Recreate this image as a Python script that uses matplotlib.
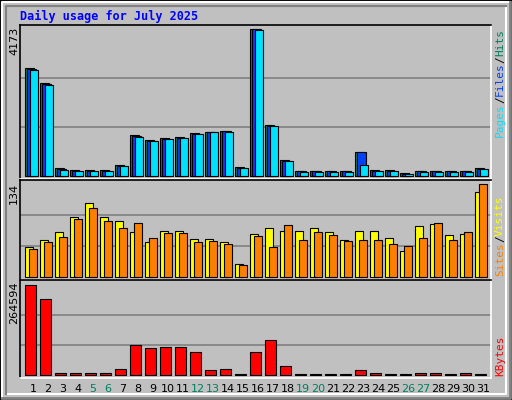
import matplotlib
matplotlib.use("Agg")
import matplotlib.pyplot as plt
from matplotlib.patches import Rectangle
from matplotlib.lines import Line2D

days = list(range(1, 32))
weekend = {5, 6, 12, 13, 19, 20, 26, 27}
hits = [3066, 2640, 227, 170, 170, 170, 312, 1164, 1022, 1079, 1107, 1220, 1249, 1277, 255, 4173,
        1448, 454, 142, 142, 142, 142, 681, 170, 170, 85, 142, 142, 142, 142, 227]
files = [3040, 2610, 200, 150, 150, 150, 290, 1140, 1000, 1060, 1090, 1200, 1240, 1270, 240, 4160,
         1430, 440, 130, 130, 130, 130, 681, 150, 150, 60, 130, 130, 130, 130, 210]
pages = [3000, 2590, 180, 140, 140, 140, 280, 1120, 990, 1040, 1080, 1180, 1240, 1260, 240, 4140,
         1410, 430, 120, 120, 120, 120, 300, 140, 140, 50, 120, 120, 120, 120, 200]
visits = [44, 54, 65, 86, 106, 86, 81, 65, 51, 67, 67, 55, 55, 51, 19, 62,
          70, 66, 66, 70, 65, 53, 66, 66, 56, 37, 73, 76, 60, 62, 123]
sites = [41, 51, 58, 83, 99, 80, 71, 78, 57, 64, 64, 51, 52, 48, 18, 59,
         44, 75, 53, 65, 60, 52, 53, 53, 47, 45, 57, 78, 53, 65, 134]
kbytes = [264594, 223000, 8000, 6000, 6000, 6000, 17600, 88000, 79000, 82000, 82000, 68000, 15000,
          18000, 3000, 68000, 102000, 28000, 2500, 2500, 2500, 2500, 15000, 6000, 2500, 2500, 6000,
          6000, 2500, 6000, 2500]

W, H = 512, 400
BG = "#C0C0C0"
C_HITS, C_FILES, C_PAGES = "#00805C", "#0040FF", "#00E0FF"
C_VIS, C_SITES, C_KB = "#FFFF00", "#FF8000", "#FF0000"
MONO = "DejaVu Sans Mono"

fig = plt.figure(figsize=(W / 100, H / 100), dpi=100, facecolor=BG)

# bevelled outer frame
fig.add_artist(Rectangle((0, 0), 1, 1, transform=fig.transFigure, fill=False, ec="black", lw=2))
fig.add_artist(Line2D([2 / W, 2 / W, 1 - 2 / W], [2 / H, 1 - 2 / H, 1 - 2 / H], transform=fig.transFigure, color="white", lw=1.5))
fig.add_artist(Line2D([6 / W, 1 - 6 / W, 1 - 6 / W], [6 / H, 6 / H, 1 - 6 / H], transform=fig.transFigure, color="white", lw=1.5))
fig.add_artist(Line2D([2 / W, 1 - 2 / W, 1 - 2 / W], [2 / H, 2 / H, 1 - 2 / H], transform=fig.transFigure, color="#808080", lw=2))
fig.add_artist(Line2D([6 / W, 6 / W, 1 - 6 / W], [6 / H, 1 - 6 / H, 1 - 6 / H], transform=fig.transFigure, color="#808080", lw=1.5))


def panel(y0, y1):
    ax = fig.add_axes([20 / W, 1 - y1 / H, (491 - 20) / W, (y1 - y0) / H])
    ax.set_facecolor(BG)
    ax.set_xlim(20, 491)
    ax.set_xticks([])
    ax.set_yticks([])
    for s in ax.spines.values():
        s.set_color("black")
        s.set_linewidth(1.2)
    ax.spines["right"].set_color("white")
    ax.spines["bottom"].set_color("white")
    return ax


def grid(ax, top):
    for f in (1 / 3, 2 / 3):
        ax.axhline(top * f, color="#808080", lw=1.2, zorder=0)


renderer = fig.canvas.get_renderer()


def vtext(x, ybottom, parts, size=8):
    # parts drawn bottom-up as rotated text, each piece stacked on the previous one
    y = ybottom
    for t, c in parts:
        txt = fig.text(x / W, 1 - y / H, t, rotation=90, ha="center", va="bottom", color=c,
                       family=MONO, fontsize=size)
        y -= txt.get_window_extent(renderer).height


left = [25 + 15 * i for i in range(31)]

# panel 1: hits / files / pages
ax1 = panel(25, 179)
top1 = max(hits)
ax1.set_ylim(-top1 * 0.02, top1 / 0.975)
grid(ax1, top1)
ax1.bar([x + 4.5 for x in left], hits, width=9, color=C_HITS, ec="black", lw=0.8)
ax1.bar([x + 6.5 for x in left], files, width=9, color=C_FILES, ec="black", lw=0.8)
ax1.bar([x + 8.5 for x in left], pages, width=8, color=C_PAGES, ec="black", lw=0.8)

# panel 2: visits / sites
ax2 = panel(180, 280)
top2 = max(sites)
ax2.set_ylim(-top2 * 0.03, top2 / 0.96)
grid(ax2, top2)
ax2.bar([x + 4 for x in left], visits, width=8, color=C_VIS, ec="black", lw=0.8)
ax2.bar([x + 8 for x in left], sites, width=8, color=C_SITES, ec="black", lw=0.8)

# panel 3: kbytes
ax3 = panel(280, 378)
top3 = max(kbytes)
ax3.set_ylim(-top3 * 0.03, top3 / 0.95)
grid(ax3, top3)
ax3.bar([x + 5.5 for x in left], kbytes, width=11, color=C_KB, ec="black", lw=0.8)

for d, x in zip(days, left):
    fig.text((x + 8) / W, 1 - 389 / H, str(d), ha="center", va="center", fontsize=8,
             color="#008060" if d in weekend else "black")

fig.text(20 / W, 1 - 16 / H, "Daily usage for July 2025", color="#0000FF", family=MONO,
         fontsize=8.5, fontweight="bold", va="center")

for label, ytop in ((str(top1), 27), (str(top2), 183), (str(top3), 281)):
    fig.text(14 / W, 1 - ytop / H, label, rotation=90, ha="center", va="top", fontsize=8)

vtext(500, 137, [("Pages", C_PAGES), ("/", "black"), ("Files", C_FILES), ("/", "black"), ("Hits", C_HITS)])
vtext(500, 276, [("Sites", C_SITES), ("/", "black"), ("Visits", C_VIS)])
vtext(500, 376, [("KBytes", C_KB)])

fig.savefig("out.png", dpi=100, facecolor=BG)
